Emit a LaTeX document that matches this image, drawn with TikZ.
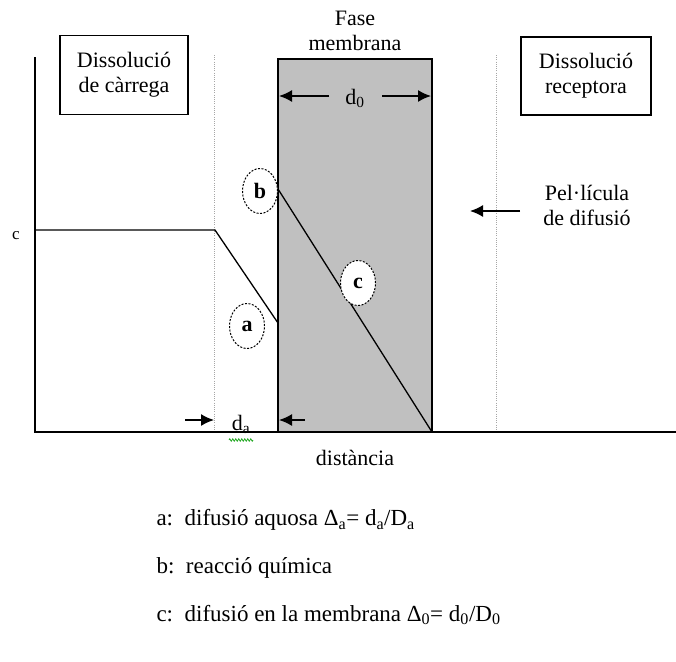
\documentclass[tikz,border=0pt]{standalone}
\usepackage{fontspec}
\setmainfont{Liberation Serif}
\usetikzlibrary{arrows.meta,positioning,shapes.geometric,decorations.pathmorphing}
\definecolor{grismem}{RGB}{192,192,192}
\definecolor{verdcorr}{RGB}{40,170,40}
\tikzset{
  nyil/.style={-{Latex[length=13pt,width=12pt]},line width=1.5pt},
  dob/.style={draw,line width=1.6pt,align=center,inner sep=0pt},
  oval/.style={ellipse,draw,dashed,dash pattern=on 2pt off 1.5pt,line width=1pt,fill=white,
    minimum width=35,minimum height=45,inner sep=0pt,font=\fontsize{22}{24}\selectfont\bfseries},
  tengely/.style={line width=1.8pt},
  pont/.style={draw=gray!70,line width=0.8pt,dash pattern=on 1pt off 1.2pt},
  gorbe/.style={line width=1.3pt},
  lleg/.style={anchor=west,font=\fontsize{23}{25}\selectfont},
}

\begin{document}
\begin{tikzpicture}[x=1pt,y=-1pt,font=\fontsize{22}{25}\selectfont]
  \useasboundingbox (0,0) rectangle (676,661);
  % membrana
  \fill[grismem] (278,59) rectangle (432,432);
  \draw[line width=1.7pt] (278,432) -- (278,59) -- (432,59) -- (432,432);
  % pel.licules
  \draw[pont] (214,55) -- (214,432);
  \draw[pont] (496,55) -- (496,432);
  % eixos
  \coordinate (O) at (35,432);
  \coordinate (ytop) at (35,57);
  \coordinate (xend) at (676,432);
  \draw[tengely] (ytop) -- (O) -- (xend);
  \node (c) at (16,236) {\fontsize{17}{19}\selectfont c};
  \node (dist) at (355,458) {distància};
  % perfil
  \coordinate (p0) at (35,230);
  \coordinate (p1) at (215,230);
  \coordinate (p2) at (278,323);
  \coordinate (q0) at (278,189);
  \coordinate (q1) at (432,432);
  \draw[gorbe] (p0) -- (p1) -- (p2);
  \draw[gorbe] (q0) -- (q1);
  \node[oval] (a) at (247,326) {a};
  \node[oval] (b) at (260,191) {b};
  \node[oval] (cc) at (358,283) {c};
  % caixes
  \node[dob,minimum width=128,minimum height=79] (carrega) at (124,75) {Dissolució\\de càrrega};
  \node[dob,minimum width=130,minimum height=78] (receptora) at (586,76) {Dissolució\\receptora};
  \node[align=center] (fase) at (355,31) {Fase\\membrana};
  % gruixos
  \node (d0) at (355,98) {d\textsubscript{0}};
  \coordinate (d0a) at (329,96);
  \coordinate (d0b) at (382,96);
  \coordinate (d0l) at (279,96);
  \coordinate (d0r) at (431,96);
  \draw[nyil] (d0a) -- (d0l);
  \draw[nyil] (d0b) -- (d0r);
  \node (da) at (241,424) {d\textsubscript{a}};
  \draw[verdcorr,line width=0.8pt,decorate,decoration={zigzag,amplitude=1.2pt,segment length=3pt}]
    (229,440) -- (253,440);
  \coordinate (dal0) at (185,420);
  \coordinate (dal1) at (214,420);
  \coordinate (dar0) at (305,420);
  \coordinate (dar1) at (279,420);
  \draw[nyil] (dal0) -- (dal1);
  \draw[nyil] (dar0) -- (dar1);
  % pel.licula de difusio
  \node[align=center] (pel) at (587,205) {Pel·lícula\\de difusió};
  \coordinate (pel0) at (520,211);
  \coordinate (pel1) at (470,211);
  \draw[nyil] (pel0) -- (pel1);
  % llegenda
  \node[lleg] (la) at (153,520) {a:\, difusió aquosa Δ\textsubscript{a}= d\textsubscript{a}/D\textsubscript{a}};
  \node[lleg] (lb) at (153,568) {b:\, reacció química};
  \node[lleg] (lc) at (153,615) {c:\, difusió en la membrana Δ\textsubscript{0}= d\textsubscript{0}/D\textsubscript{0}};
\end{tikzpicture}
\end{document}
